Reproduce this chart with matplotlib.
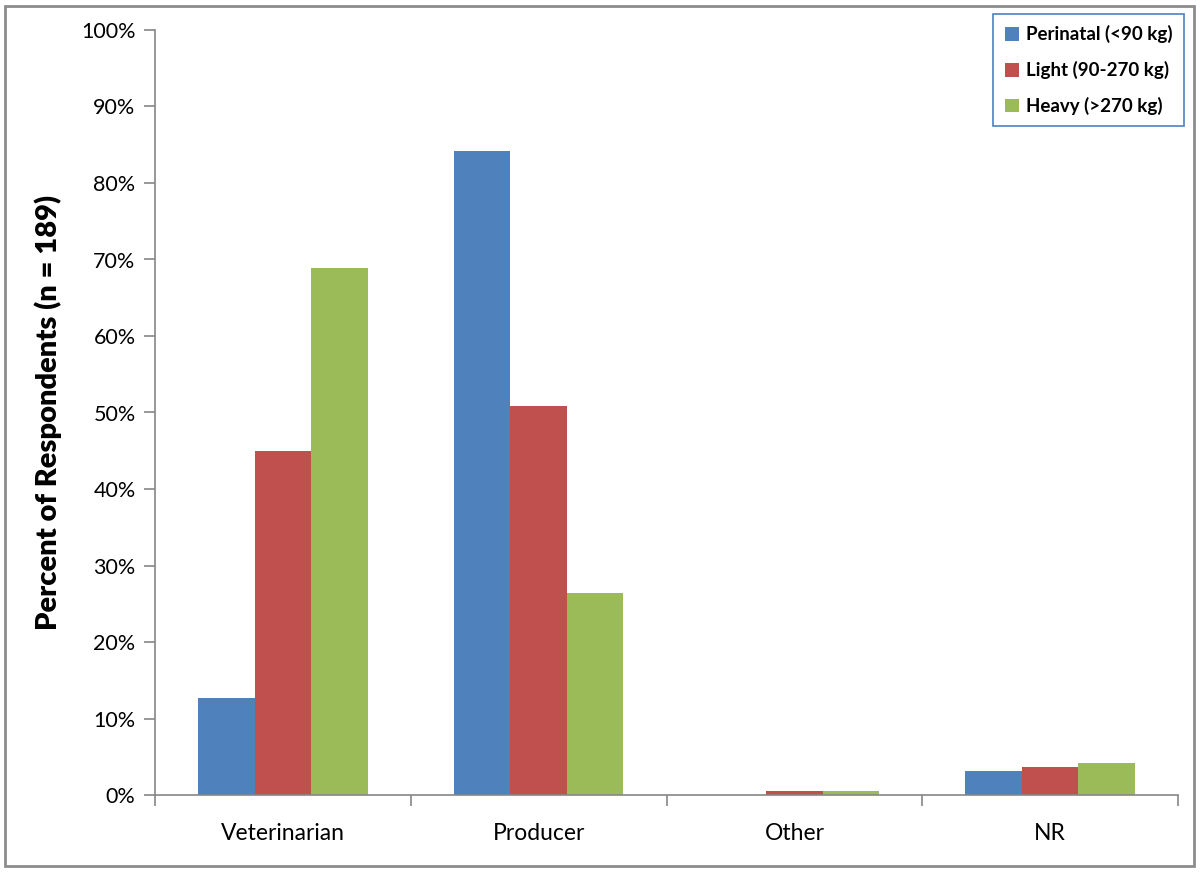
import numpy as np
import matplotlib.pyplot as plt
from matplotlib.patches import Rectangle
from matplotlib.ticker import FuncFormatter

plt.rcParams['font.family'] = ['Lato', 'DejaVu Sans']

categories = ['Veterinarian', 'Producer', 'Other', 'NR']
series_names = ['Perinatal (<90 kg)', 'Light (90-270 kg)', 'Heavy (>270 kg)']
perinatal = [12.7, 84.2, 0.0, 3.1]
light = [45.0, 50.8, 0.5, 3.7]
heavy = [68.9, 26.4, 0.5, 4.2]
colors = ['#4F81BD', '#C0504D', '#9BBB59']

fig = plt.figure(figsize=(12, 8.72), dpi=100)
# outer frame of the chart
fig.patches.append(Rectangle((5/1200, 6/872), 1189/1200, 860/872, transform=fig.transFigure,
                             fill=False, edgecolor='#8c8c8c', linewidth=2))
ax = fig.add_axes([155/1200, 1-795/872, 1023/1200, 765/872])

x = np.arange(len(categories))
w = 0.221
for i, vals in enumerate([perinatal, light, heavy]):
    ax.bar(x + (i-1)*w, vals, w, color=colors[i], label=series_names[i], zorder=2)

ax.set_xlim(-0.5, 3.5)
ax.set_ylim(0, 100)
ax.set_yticks(np.arange(0, 101, 10))
ax.yaxis.set_major_formatter(FuncFormatter(lambda v, p: '%d%%' % v))
ax.set_xticks(x)
ax.set_xticklabels(categories)
ax.set_xticks(np.arange(-0.5, 3.6, 1), minor=True)
ax.tick_params(axis='x', which='major', length=0, pad=20, labelsize=16.5)
ax.tick_params(axis='x', which='minor', length=8, color='#868686', width=1.2)
ax.tick_params(axis='y', length=8, color='#868686', width=1.2, labelsize=15.5, pad=6)
for s in ['top', 'right']:
    ax.spines[s].set_visible(False)
for s in ['left', 'bottom']:
    ax.spines[s].set_color('#868686')
    ax.spines[s].set_linewidth(1.2)
ax.set_ylabel('Percent of Respondents (n = 189)', fontsize=21, fontweight='heavy', labelpad=14)

leg = fig.legend(loc='upper right', bbox_to_anchor=(1184/1200, 1-14/872),
                 prop={'weight': 'bold', 'size': 13.5}, fancybox=False, framealpha=1,
                 edgecolor='#4F81BD', handlelength=0.75, handleheight=0.75, handletextpad=0.4,
                 labelspacing=0.95, borderpad=0.6, borderaxespad=0)
leg.get_frame().set_linewidth(1.2)

fig.savefig('out.png', dpi=100)
